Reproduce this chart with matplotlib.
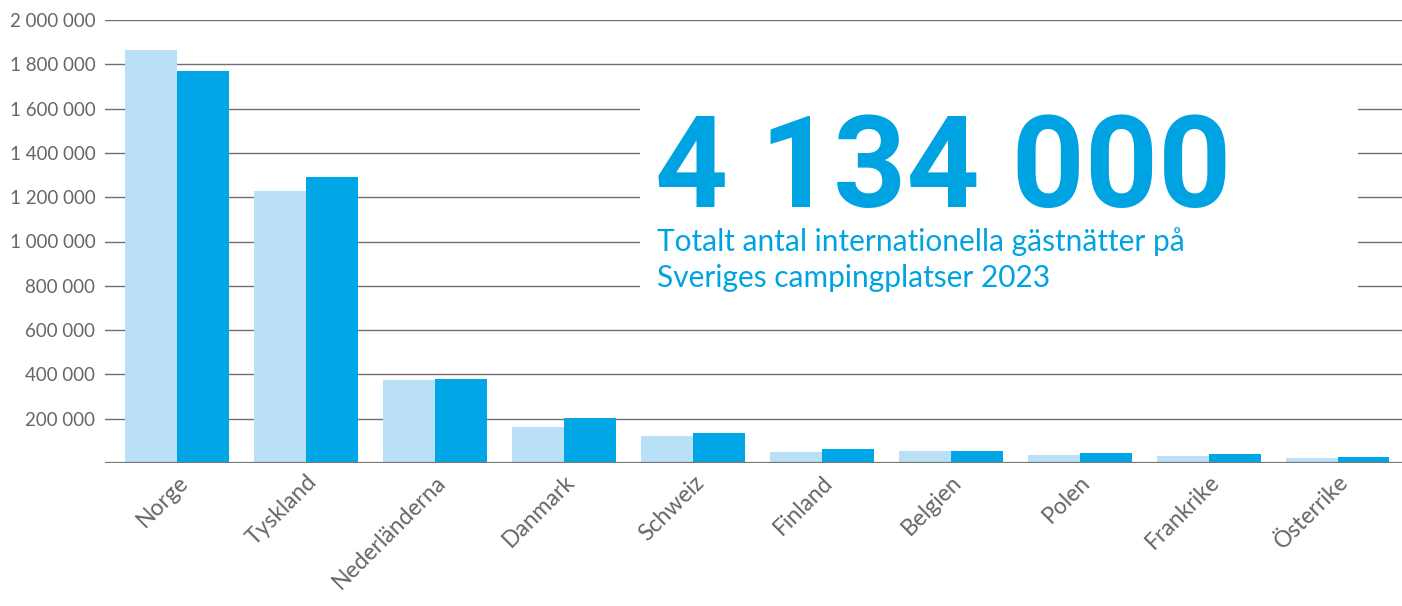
import numpy as np
import matplotlib.pyplot as plt
from matplotlib.patches import Rectangle

# data
countries = ['Norge', 'Tyskland', 'Nederländerna', 'Danmark', 'Schweiz',
             'Finland', 'Belgien', 'Polen', 'Frankrike', 'Österrike']
nights_prev = [1865000, 1228000, 375000, 162500, 123000,
               51000, 55500, 37500, 33000, 24000]
nights_2023 = [1770000, 1291000, 380000, 203000, 137000,
               64500, 55500, 46500, 42000, 28500]
yticks = [200000, 400000, 600000, 800000, 1000000,
          1200000, 1400000, 1600000, 1800000, 2000000]
big_number = '4 134 000'
subtitle = ['Totalt antal internationella gästnätter på',
            'Sveriges campingplatser 2023']

light = '#b9e0f6'
dark = '#00a6e6'
grey = '#666666'

plt.rcParams['font.family'] = ['Lato', 'DejaVu Sans']

fig = plt.figure(figsize=(14.02, 6.06), dpi=100)
ax = fig.add_axes([105/1402, 143/606, 1 - 105/1402, (463-20)/606])

x = np.arange(len(countries))
w = 0.403
ax.bar(x - w/2, nights_prev, width=w, color=light, zorder=2)
ax.bar(x + w/2, nights_2023, width=w, color=dark, zorder=2)

ax.set_xlim(-0.56, 9.5)
ax.set_ylim(0, 2000000)
ax.set_yticks(yticks)
ax.set_yticklabels([f'{v:,}'.replace(',', ' ') for v in yticks],
                   fontsize=13.5, color=grey)
ax.set_xticks(x)
ax.set_xticklabels(countries, rotation=45, ha='right', rotation_mode='anchor',
                   fontsize=16.5, color=grey)
ax.tick_params(axis='both', length=0)
ax.tick_params(axis='y', pad=7)
ax.tick_params(axis='x', pad=6)
ax.grid(axis='y', color='#707070', lw=1.0, zorder=1)
ax.axhline(0, color='#777777', lw=1.6, zorder=3)
for s in ax.spines.values():
    s.set_visible(False)

# white box behind the headline number
fig.patches.append(Rectangle((640/1402, 301/606), 718/1402, 214/606,
                             transform=fig.transFigure, facecolor='white',
                             edgecolor='none', zorder=5))

fig.text(655/1402, (606-207)/606, big_number, fontsize=92, fontweight='bold',
         family=['Roboto', 'DejaVu Sans'], color='#00a3e2', va='baseline',
         ha='left', zorder=6)
fig.text(657/1402, (606-251)/606, subtitle[0], fontsize=21.5, color='#00a3e2',
         va='baseline', ha='left', zorder=6)
fig.text(657/1402, (606-287)/606, subtitle[1], fontsize=21.5, color='#00a3e2',
         va='baseline', ha='left', zorder=6)

fig.savefig('out.png', dpi=100)
